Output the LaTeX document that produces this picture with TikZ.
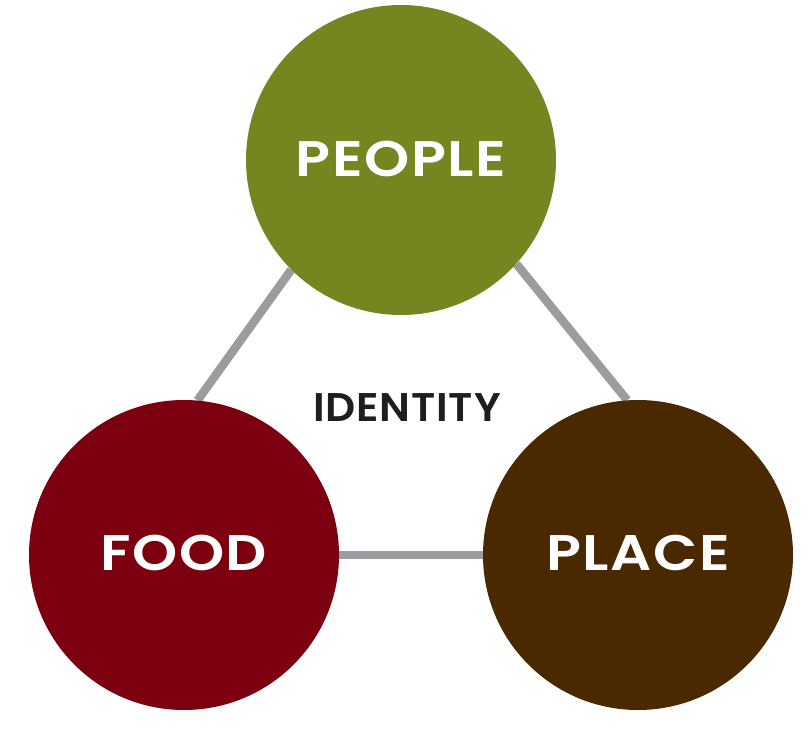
\documentclass[tikz,border=0pt]{standalone}
\usepackage{fontspec}
\setmainfont{Poppins}
\newfontfamily\hubfont{Poppins}[UprightFont=* SemiBold, FakeStretch=1.15, LetterSpace=3]
\newfontfamily\midfont{Poppins}[UprightFont=* SemiBold, FakeStretch=1.05, LetterSpace=2]
\usetikzlibrary{backgrounds}

\definecolor{peoplegreen}{RGB}{116,134,31}
\definecolor{foodred}{RGB}{125,0,16}
\definecolor{placebrown}{RGB}{74,40,0}
\definecolor{linkgray}{RGB}{155,155,160}
\definecolor{labelink}{RGB}{30,30,30}

\tikzset{
  hub/.style={circle, minimum size=310pt, inner sep=0pt, draw=none,
    text=white, font=\hubfont\fontsize{50}{50}\selectfont},
  link/.style={draw=linkgray, line width=8.5pt},
  centrelabel/.style={text=labelink, inner sep=0pt,
    font=\midfont\fontsize{40}{40}\selectfont}
}

\begin{document}
\begin{tikzpicture}[x=1pt, y=-1pt]
  \useasboundingbox (0,0) rectangle (808,728);

  % the three circles
  \node[hub, fill=peoplegreen] (people) at (401,160) {\raisebox{2.5pt}{PEOPLE}};
  \node[hub, fill=foodred]     (food)   at (184,555) {\raisebox{4.5pt}{FOOD}};
  \node[hub, fill=placebrown]  (place)  at (638,555) {\raisebox{4.5pt}{PLACE}};

  % label in the middle of the triangle
  \node[centrelabel] (identity) at (407,408) {IDENTITY};

  % grey links, kept behind the circles
  \begin{scope}[on background layer]
    \fill[white] (0,0) rectangle (808,728);
    \draw[link] (people.225) -- (food.85);
    \draw[link] (people.-42) -- (place.94);
    \draw[link] (food.0) -- (place.180);
  \end{scope}
\end{tikzpicture}
\end{document}
